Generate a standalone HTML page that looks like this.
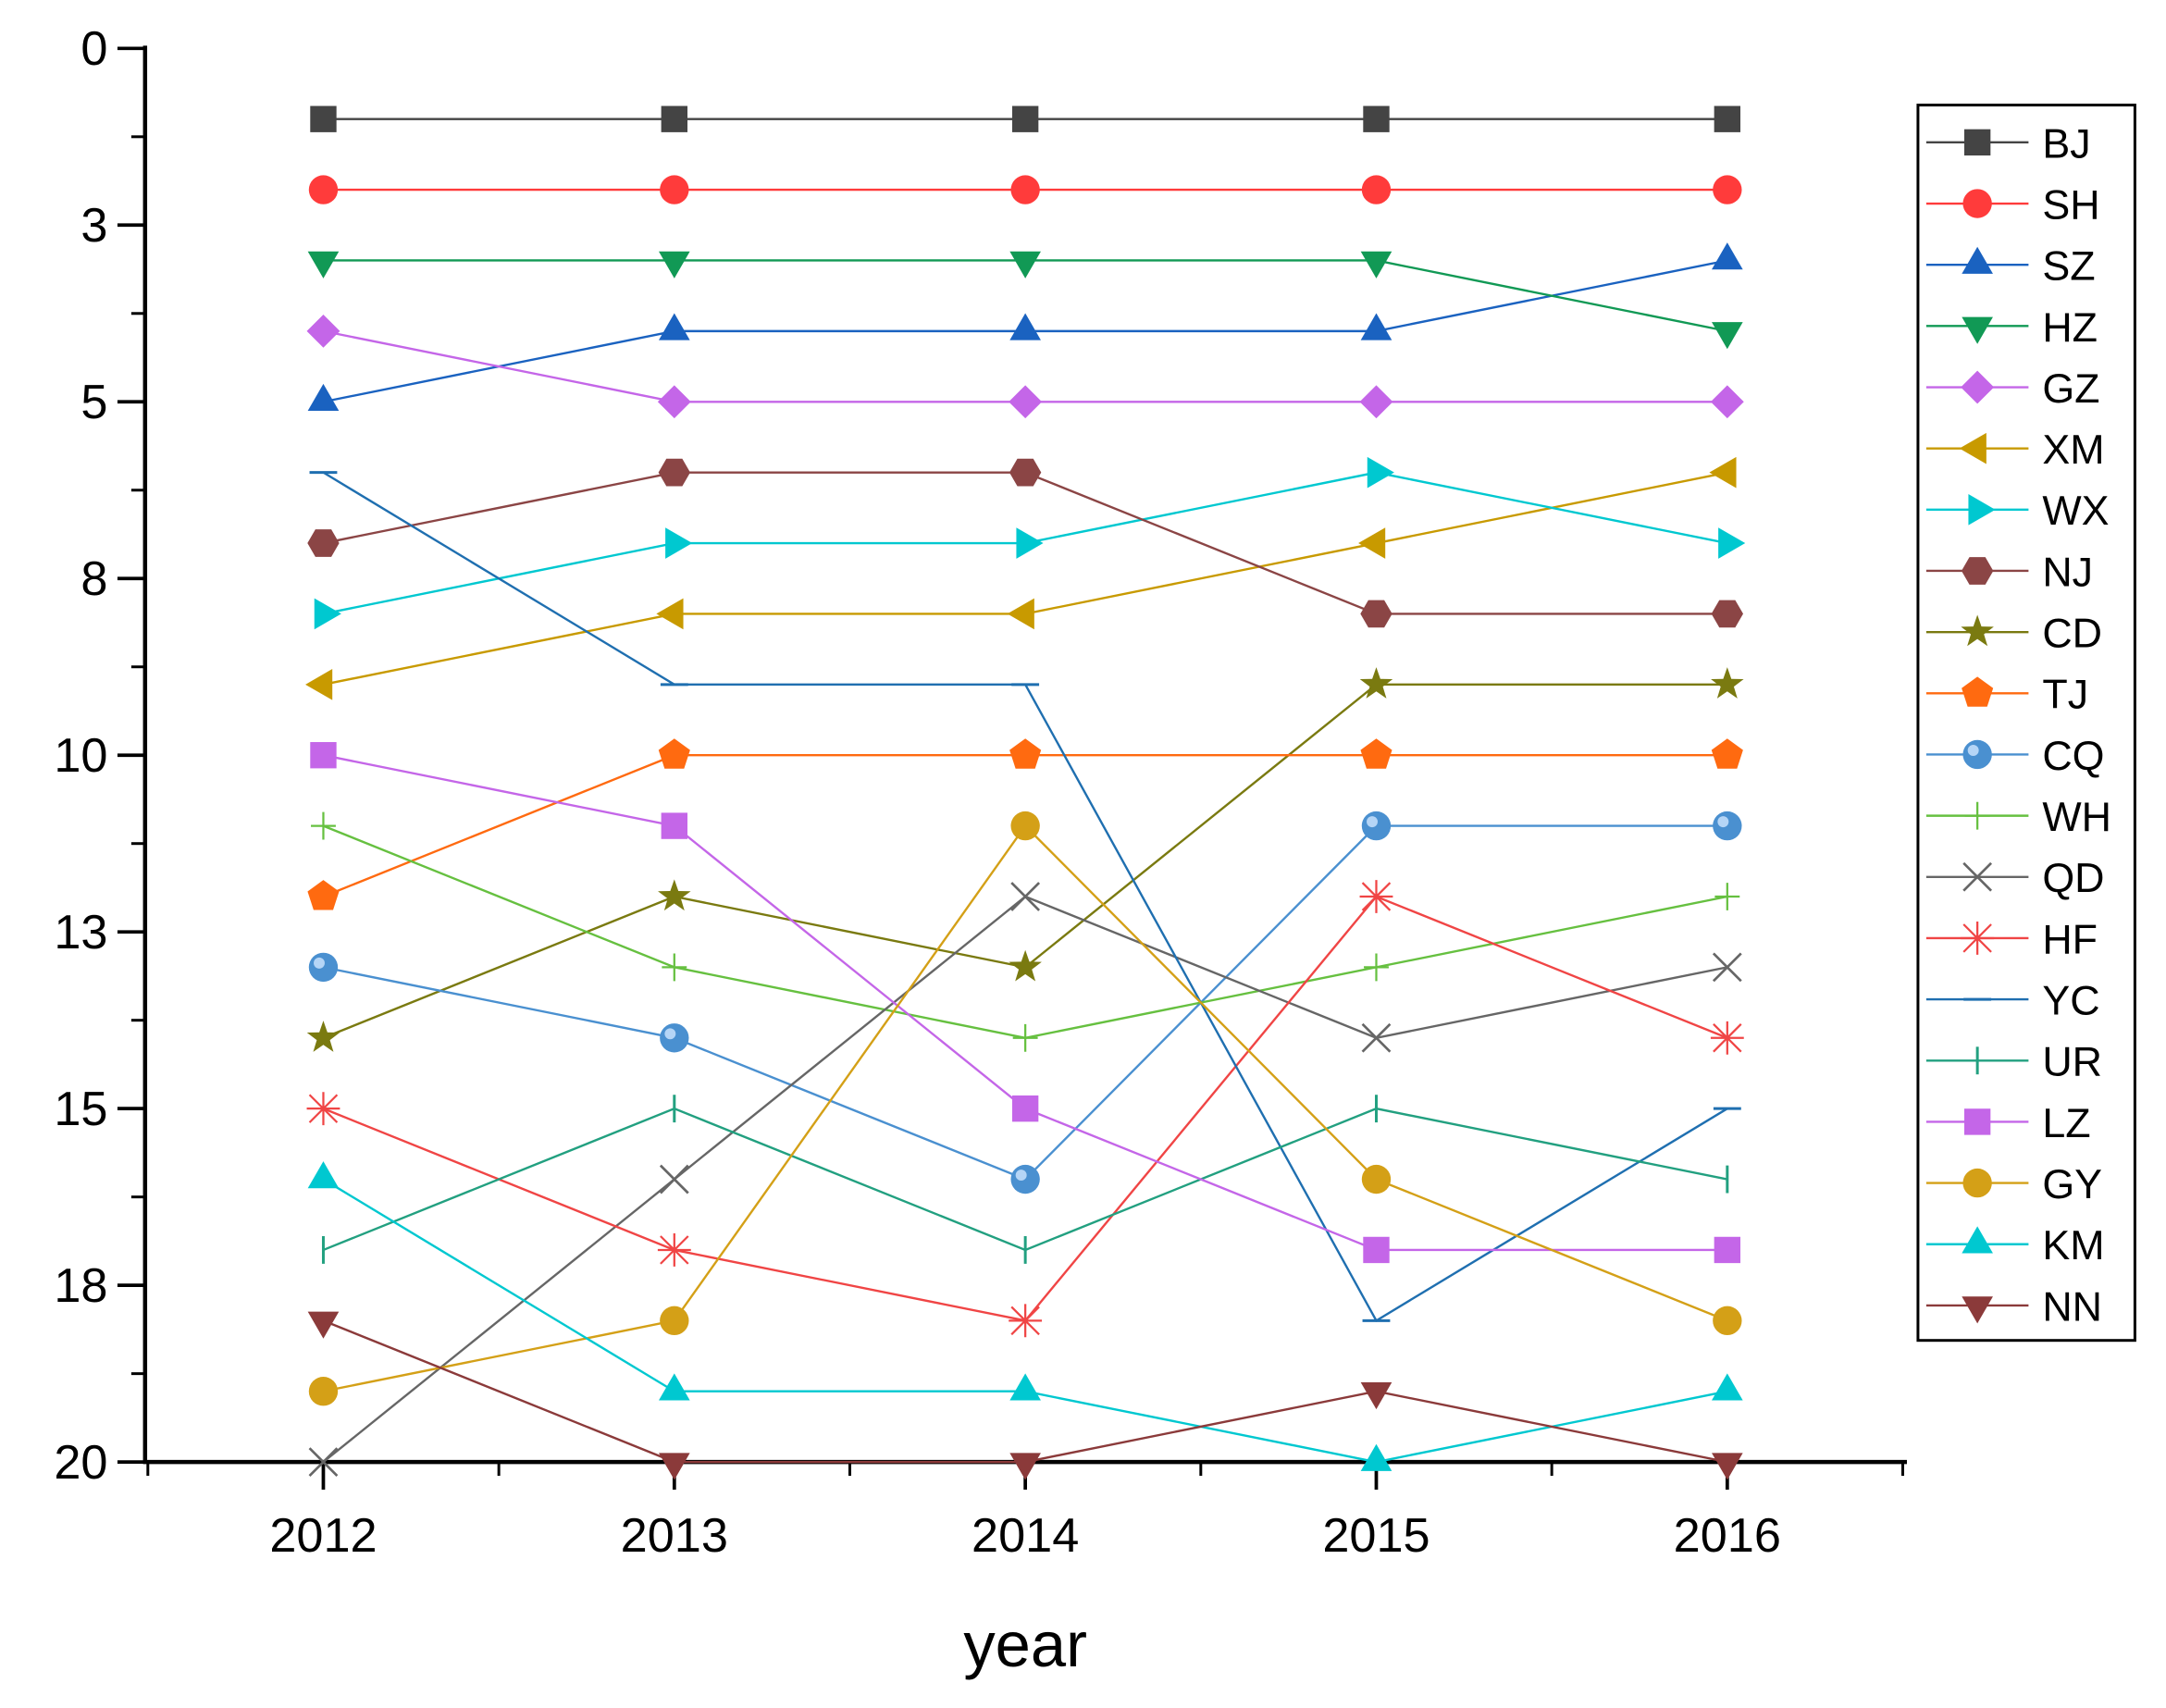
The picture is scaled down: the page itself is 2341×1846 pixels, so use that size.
<!DOCTYPE html>
<html><head><meta charset="utf-8"><style>body{margin:0;background:#fff}svg{display:block}</style></head>
<body>
<svg id="chart" width="2341" height="1846" viewBox="0 0 1567.5 1236" xmlns="http://www.w3.org/2000/svg" font-family="Liberation Sans, Arial, sans-serif"></svg>
<script>
const years = [2012, 2013, 2014, 2015, 2016];
const yTickValues = [0, 2.5, 5, 7.5, 10, 12.5, 15, 17.5, 20];
const yTickLabels = ["0", "3", "5", "8", "10", "13", "15", "18", "20"];
const seriesNames = ["BJ","SH","SZ","HZ","GZ","XM","WX","NJ","CD","TJ","CQ","WH","QD","HF","YC","UR","LZ","GY","KM","NN"];
const BJ = [1,1,1,1,1];
const SH = [2,2,2,2,2];
const SZ = [5,4,4,4,3];
const HZ = [3,3,3,3,4];
const GZ = [4,5,5,5,5];
const XM = [9,8,8,7,6];
const WX = [8,7,7,6,7];
const NJ = [7,6,6,8,8];
const CD = [14,12,13,9,9];
const TJ = [12,10,10,10,10];
const CQ = [13,14,16,11,11];
const WH = [11,13,14,13,12];
const QD = [20,16,12,14,13];
const HF = [15,17,18,12,14];
const YC = [6,9,9,18,15];
const UR = [17,15,17,15,16];
const LZ = [10,11,15,17,17];
const GY = [19,18,11,16,18];
const KM = [16,19,19,20,19];
const NN = [18,20,20,19,20];
const seriesValues = [BJ,SH,SZ,HZ,GZ,XM,WX,NJ,CD,TJ,CQ,WH,QD,HF,YC,UR,LZ,GY,KM,NN];
const styles = [
 ["#444444","square"],["#ff3b3b","circle"],["#1a62c0","triup"],["#119955","tridown"],
 ["#c466e8","diamond"],["#c89a00","trileft"],["#00c8d0","triright"],["#8b4545","hex"],
 ["#7a7a10","star"],["#ff6a10","pent"],["#4a90d0","sphere"],["#66c040","plus"],
 ["#666666","x"],["#f04545","aster"],["#1f6fb0","dash"],["#22a080","vbar"],
 ["#c466e8","square"],["#d4a017","circle"],["#00c8d0","triup"],["#8b3a3a","tridown"]];

const NS="http://www.w3.org/2000/svg";
const svg=document.getElementById('chart');
const X0=234, XS=254, Y0=35, YS=51.15;
const xPos=i=>X0+i*XS, yPos=v=>Y0+v*YS;
function el(tag,attrs,parent){const e=document.createElementNS(NS,tag);for(const k in attrs)e.setAttribute(k,attrs[k]);(parent||svg).appendChild(e);return e;}
function poly(n,r,rot){let p=[];for(let i=0;i<n;i++){const a=rot+i*2*Math.PI/n;p.push([r*Math.cos(a),r*Math.sin(a)]);}return p;}
function marker(g,type,cx,cy,c){
 let e;
 const P=pts=>el('polygon',{points:pts.map(p=>(cx+p[0])+','+(cy+p[1])).join(' '),fill:c},g);
 if(type==='square')e=el('rect',{x:cx-9.5,y:cy-9.5,width:19,height:19,fill:c},g);
 else if(type==='circle')e=el('circle',{cx,cy,r:10.5,fill:c},g);
 else if(type==='sphere'){e=el('circle',{cx,cy,r:10.5,fill:c},g);el('circle',{cx:cx-3,cy:cy-3,r:4,fill:'#cfe6ff',opacity:0.8},g);}
 else if(type==='triup')e=P(poly(3,13,-Math.PI/2));
 else if(type==='tridown')e=P(poly(3,13,Math.PI/2));
 else if(type==='trileft')e=P(poly(3,13,Math.PI));
 else if(type==='triright')e=P(poly(3,13,0));
 else if(type==='diamond')e=P(poly(4,12,0));
 else if(type==='hex')e=P(poly(6,11.5,0));
 else if(type==='pent')e=P(poly(5,12,-Math.PI/2));
 else if(type==='star'){let p=[];for(let i=0;i<10;i++){const a=-Math.PI/2+i*Math.PI/5,rr=i%2?5:12.5;p.push([rr*Math.cos(a),rr*Math.sin(a)]);}e=P(p);}
 else if(type==='plus')e=el('path',{d:`M${cx-9},${cy}H${cx+9}M${cx},${cy-10}V${cy+10}`,stroke:c,'stroke-width':1.5,fill:'none'},g);
 else if(type==='x')e=el('path',{d:`M${cx-10},${cy-10}L${cx+10},${cy+10}M${cx-10},${cy+10}L${cx+10},${cy-10}`,stroke:c,'stroke-width':1.8,fill:'none'},g);
 else if(type==='aster')e=el('path',{d:`M${cx-10},${cy-10}L${cx+10},${cy+10}M${cx-10},${cy+10}L${cx+10},${cy-10}M${cx},${cy-12}V${cy+12}M${cx-12},${cy}H${cx+12}`,stroke:c,'stroke-width':1.5,fill:'none'},g);
 else if(type==='dash')e=el('path',{d:`M${cx-10},${cy}H${cx+10}`,stroke:c,'stroke-width':2,fill:'none'},g);
 else if(type==='vbar')e=el('path',{d:`M${cx},${cy-10}V${cy+10}`,stroke:c,'stroke-width':2,fill:'none'},g);
 return e;
}
const ax=el('g',{});


el('path',{d:`M105,33V1058H1380`,stroke:'#000','stroke-width':3,fill:'none'},ax);
yTickValues.forEach((v,i)=>{
 const y=yPos(v);
 el('line',{x1:85,x2:105,y1:y,y2:y,stroke:'#000','stroke-width':2.5},ax);
 if(i<yTickValues.length-1){const ym=yPos(v+1.25);el('line',{x1:95,x2:105,y1:ym,y2:ym,stroke:'#000','stroke-width':2},ax);}
 const t=el('text',{x:78,y:y+12,'text-anchor':'end','font-size':35,fill:'#000'},ax);
 t.textContent=yTickLabels[i];
 
 
});
years.forEach((yr,i)=>{
 const x=xPos(i);
 el('line',{x1:x,x2:x,y1:1058,y2:1078,stroke:'#000','stroke-width':2.5},ax);
 const t=el('text',{x:x,y:1123,'text-anchor':'middle','font-size':35,fill:'#000'},ax);
 t.textContent=yr;
 
 
});
for(let i=-0.5;i<=4.5;i+=1){const x=xPos(i);if(x>105&&x<1380)el('line',{x1:x,x2:x,y1:1058,y2:1068,stroke:'#000','stroke-width':2},ax);}
const xt=el('text',{x:742,y:1206,'text-anchor':'middle','font-size':46,fill:'#000'});
xt.textContent='year';


seriesValues.forEach((vals,s)=>{
 const [c,type]=styles[s];
 const g=el('g',{});
 
 
 el('polyline',{points:vals.map((v,i)=>xPos(i)+','+yPos(v)).join(' '),fill:'none',stroke:c,'stroke-width':1.6},g);
 vals.forEach((v,i)=>marker(g,type,xPos(i),yPos(v),c));
});
const lg=el('g',{});


el('rect',{x:1388,y:76,width:157,height:894,fill:'#fff',stroke:'#000','stroke-width':2},lg);
seriesNames.forEach((n,s)=>{
 const [c,type]=styles[s];const y=103+s*44.3;
 const g=el('g',{},lg);
 
 
 el('line',{x1:1394,x2:1468,y1:y,y2:y,stroke:c,'stroke-width':1.6},g);
 marker(g,type,1431,y,c);
 const t=el('text',{x:1478,y:y+11,'font-size':30,fill:'#000'},g);
 t.textContent=n;
});
</script>
</body></html>
